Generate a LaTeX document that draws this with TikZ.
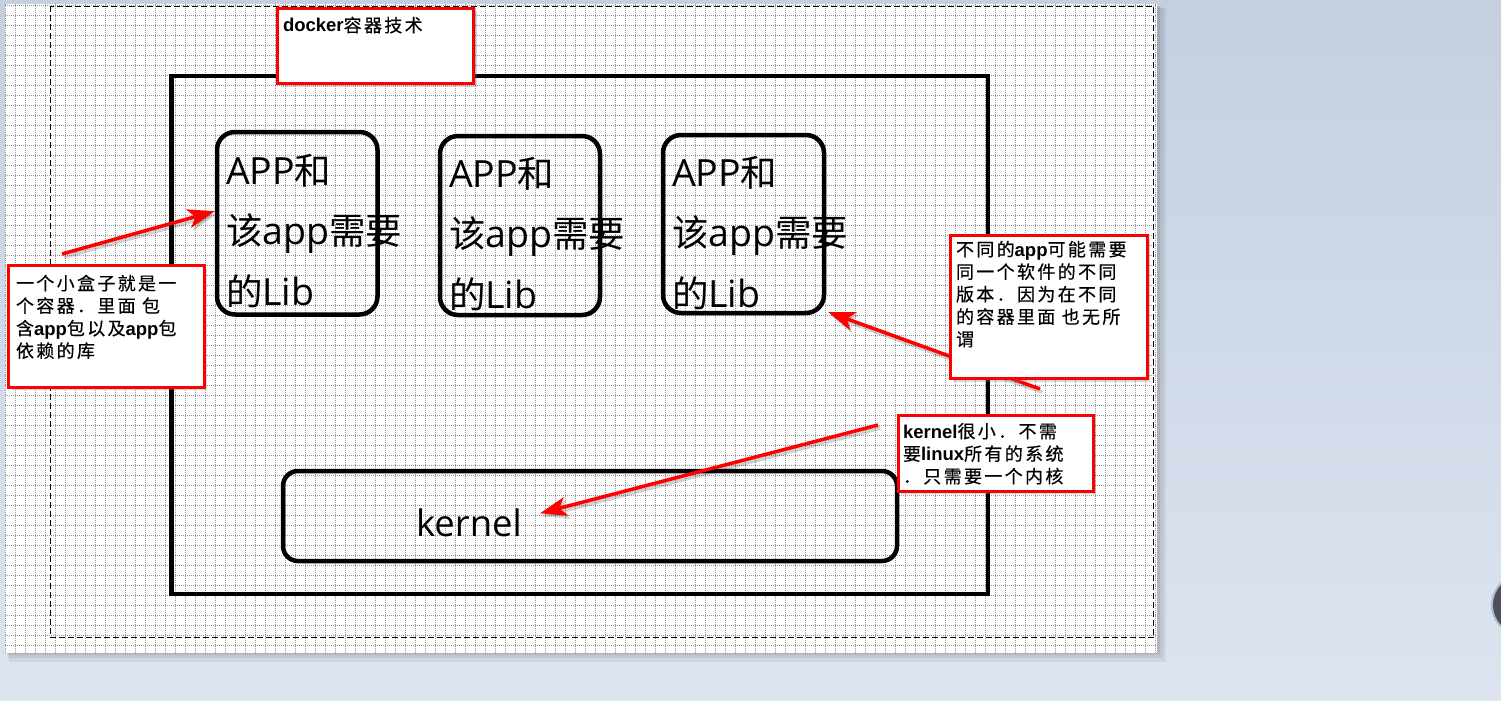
\documentclass[tikz,border=0pt]{standalone}
\usepackage{fontspec}
\usetikzlibrary{arrows.meta,shadows}
\setmainfont{Liberation Sans}
\newfontfamily\cjkf{Noto Sans CJK SC}
\newfontfamily\cjks{Noto Sans CJK SC}[LetterSpace=13,FakeBold=0.4]
\newfontfamily\latf{Open Sans}
\newfontfamily\latb{Liberation Sans Bold}
\newcommand\nb[1]{{\latb\fontsize{18.5}{22.5}\selectfont #1}}
\newcommand\bc[1]{{\cjkf\fontsize{36.5}{60.5}\selectfont #1}}
\definecolor{bgtop}{RGB}{197,207,224}
\definecolor{bgbot}{RGB}{220,228,240}
\definecolor{griddot}{RGB}{150,150,150}
\definecolor{knob}{RGB}{75,80,94}
\begin{document}
\begin{tikzpicture}[x=1pt,y=-1pt,
  gridline/.style={draw=griddot,line width=1pt,dash pattern=on 1pt off 1pt},
  margin/.style={draw=black,line width=1pt,dash pattern=on 6pt off 3pt},
  mainbox/.style={draw=black,line width=4.5pt,inner sep=0pt},
  cbox/.style={draw=black,line width=4.5pt,rounded corners=18pt,inner sep=0pt},
  kbox/.style={draw=black,line width=4.5pt,rounded corners=15pt,inner sep=0pt},
  note/.style={draw=red,line width=3pt,fill=white,inner sep=0pt,
    drop shadow={opacity=0.3,shadow xshift=3pt,shadow yshift=-3pt}},
  redarrow/.style={draw=red,line width=3.5pt,
    -{Stealth[length=27pt,width=19pt,inset=7pt]}},
  arrowshadow/.style={draw=black,opacity=0.18,line width=4pt,
    -{Stealth[length=27pt,width=19pt,inset=7pt]},
    transform canvas={xshift=2pt,yshift=-3pt}},
  bigtext/.style={anchor=base west,inner sep=0pt,outer sep=0pt,
    font=\latf\fontsize{37.5}{60.5}\selectfont},
  notetext/.style={anchor=base west,inner sep=0pt,outer sep=0pt,
    font=\cjks\fontsize{18}{22.5}\selectfont}
]
\useasboundingbox (0,0) rectangle (1501,701);
% window background
\shade[top color=bgtop,bottom color=bgbot] (0,0) rectangle (1501,701);
% page shadow and page
\fill[black,opacity=0.06] (9,8) rectangle (1166,662);
\fill[black,opacity=0.06] (8,7) rectangle (1163,658);
\fill[black,opacity=0.08] (7,6) rectangle (1160,655);
\fill[white] (5,4) rectangle (1157,653);
% grid
\foreach \gx in {5,15,...,1155} \draw[gridline] (\gx+0.5,4) -- (\gx+0.5,653);
\foreach \gy in {5,15,...,645} \draw[gridline] (5,\gy+0.5) -- (1157,\gy+0.5);
% page margin
\draw[margin] (50.5,6.5) rectangle (1153.5,637.5);
% scroll knob at the right edge
\begin{scope}
\clip (0,0) rectangle (1501,701);
\fill[knob!60!white,opacity=0.5] (1522,605) circle[radius=31pt];
\fill[knob] (1522,605) circle[radius=29pt];
\end{scope}
% main container
\node[mainbox,minimum width=816.5pt,minimum height=518pt] (main) at (579.75,335) {};
% three app boxes
\node[cbox,minimum width=160.5pt,minimum height=182.5pt] (box1) at (297.25,223.25) {};
\node[cbox,minimum width=160pt,minimum height=179pt] (box2) at (520,225.5) {};
\node[cbox,minimum width=161pt,minimum height=178pt] (box3) at (743.5,224) {};
\node[bigtext] (txt1) at (226,184) {\vtop{\hbox{APP\bc{和}}\hbox{\bc{该}app\bc{需要}}\hbox{\bc{的}Lib}}};
\node[bigtext] (txt2) at (449,187) {\vtop{\hbox{APP\bc{和}}\hbox{\bc{该}app\bc{需要}}\hbox{\bc{的}Lib}}};
\node[bigtext] (txt3) at (672,186) {\vtop{\hbox{APP\bc{和}}\hbox{\bc{该}app\bc{需要}}\hbox{\bc{的}Lib}}};
% kernel
\node[kbox,minimum width=614pt,minimum height=90pt] (kbox) at (590,516) {};
\node[bigtext,font=\latf\fontsize{36.5}{40}\selectfont] (ktext) at (416,536) {kernel};
% arrow tails
\coordinate (t1) at (62,254);
\coordinate (t2) at (1040,389);
\coordinate (t3) at (878,425);
% arrows
\draw[arrowshadow] (t1) -- ([yshift=12pt]box1.west);
\draw[arrowshadow] (t2) -- ([xshift=1.75pt,yshift=3.25pt]box3.south east);
\draw[arrowshadow] (t3) -- ([xshift=18pt,yshift=9pt]ktext.east);
\draw[redarrow] (t1) -- ([yshift=12pt]box1.west);
\draw[redarrow] (t2) -- ([xshift=1.75pt,yshift=3.25pt]box3.south east);
\draw[redarrow] (t3) -- ([xshift=18pt,yshift=9pt]ktext.east);
% title
\node[note,minimum width=196pt,minimum height=75pt] (title) at (375.5,46) {};
\node[notetext] (ttext) at (283,32) {\nb{docker}容器技术};
% notes
\node[note,minimum width=195.5pt,minimum height=121.5pt] (note1) at (106.25,326.25) {};
\node[notetext] (n1text) at (16,290) {\vtop{\hbox{一个小盒子就是一}\hbox{个容器．里面 包}\hbox{含\nb{app}包以及\nb{app}包}\hbox{依赖的库}}};
\node[note,minimum width=197pt,minimum height=143pt] (note2) at (1048.5,307) {};
\node[notetext] (n2text) at (956,256) {\vtop{\hbox{不同的\nb{app}可能需要}\hbox{同一个软件的不同}\hbox{版本．因为在不同}\hbox{的容器里面 也无所}\hbox{谓}}};
\node[note,minimum width=195pt,minimum height=76pt] (note3) at (995.5,453) {};
\node[notetext] (n3text) at (903,438) {\vtop{\hbox{\nb{kernel}很小．不需}\hbox{要\nb{linux}所有的系统}\hbox{．只需要一个内核}}};
\end{tikzpicture}
\end{document}
